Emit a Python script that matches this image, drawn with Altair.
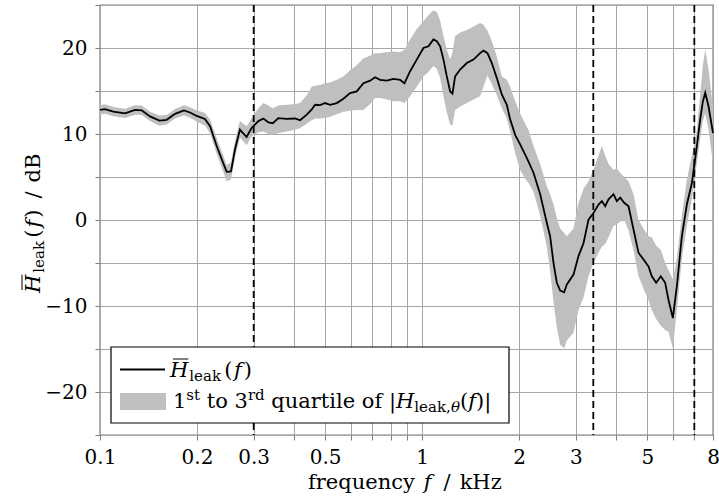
import altair as alt
import pandas as pd

# ---------------- data ----------------
freq_khz = [0.1000, 0.1036, 0.1100, 0.1196, 0.1284, 0.1347, 0.1430, 0.1529, 0.1610, 0.1710,
            0.1823, 0.1903, 0.1996, 0.2118, 0.2196, 0.2303, 0.2414, 0.2473, 0.2551, 0.2624,
            0.2719, 0.2852, 0.2955, 0.3103, 0.3216, 0.3333, 0.3438, 0.3579, 0.3799, 0.4033,
            0.4180, 0.4384, 0.4543, 0.4653, 0.4822, 0.4998, 0.5180, 0.5433, 0.5698, 0.5976,
            0.6268, 0.6574, 0.6895, 0.7145, 0.7406, 0.7768, 0.8147, 0.8545, 0.8813, 0.9178,
            0.9625, 1.0095, 1.0463, 1.0844, 1.1105, 1.1374, 1.1650, 1.1931, 1.2218, 1.2424,
            1.2663, 1.3122, 1.3763, 1.4434, 1.5139, 1.5505, 1.5955, 1.6459, 1.7058, 1.7679,
            1.8323, 1.8764, 1.9448, 2.0156, 2.0890, 2.1392, 2.2174, 2.3256, 2.4391, 2.4976,
            2.5583, 2.6198, 2.6837, 2.7606, 2.8140, 2.9512, 3.0584, 3.1696, 3.2853, 3.4047,
            3.5285, 3.6141, 3.7011, 3.7906, 3.9286, 4.0235, 4.1203, 4.2394, 4.3734, 4.5321,
            4.6967, 4.8679, 5.0446, 5.1659, 5.3290, 5.5097, 5.6836, 5.8210, 6.0047, 6.1784,
            6.4031, 6.6363, 6.8793, 7.1285, 7.3010, 7.4408, 7.5682, 7.7505, 8.0000]

mean_db = [12.8, 12.9, 12.6, 12.4, 12.8, 12.75, 12.05, 11.55, 11.65, 12.35,
           12.75, 12.5, 12.1, 11.75, 10.9, 8.6, 6.6, 5.6, 5.65, 8.2,
           10.5, 9.65, 10.7, 11.5, 11.8, 11.35, 11.25, 11.85, 11.75, 11.8,
           11.6, 12.25, 12.85, 13.4, 13.35, 13.6, 13.4, 13.6, 14.1, 14.75,
           14.95, 15.9, 16.2, 16.6, 16.3, 16.2, 16.4, 16.3, 15.9, 17.3,
           18.65, 20.0, 20.2, 21.0, 20.8, 20.2, 18.65, 16.7, 14.95, 14.7,
           16.7, 17.5, 18.25, 18.65, 19.4, 19.7, 19.4, 18.25, 16.5, 14.6,
           13.4, 11.7, 9.9, 8.8, 7.6, 6.8, 5.5, 3.0, -0.35, -1.9,
           -5.0, -7.3, -8.2, -8.4, -7.5, -6.35, -4.2, -2.7, 0.04, 0.8,
           1.8, 2.2, 1.6, 2.4, 3.0, 2.2, 2.6, 2.0, 1.6, -1.1,
           -3.8, -4.6, -5.4, -6.55, -7.3, -6.55, -7.3, -9.3, -11.4, -7.7,
           -1.9, 1.8, 4.3, 8.6, 11.7, 13.8, 14.8, 13.2, 10.1]

q1_db = [12.25, 12.35, 12.05, 11.85, 12.25, 12.2, 11.5, 10.95, 11.1, 11.8,
         12.15, 11.9, 11.45, 11.0, 10.1, 7.7, 5.6, 4.5, 4.7, 7.2,
         9.6, 8.7, 9.7, 10.2, 10.3, 10.0, 9.9, 10.1, 10.3, 10.5,
         10.7, 11.2, 11.6, 11.8, 11.8, 11.85, 12.0, 12.3, 12.6, 12.7,
         12.8, 12.8, 13.5, 14.2, 14.2, 14.0, 13.8, 13.8, 13.6, 14.4,
         15.5, 16.7, 17.2, 17.9, 17.6, 16.5, 14.4, 12.5, 11.1, 11.0,
         12.8, 13.2, 13.6, 14.0, 14.4, 15.5, 16.8, 15.8, 14.5, 13.0,
         11.8, 10.3, 7.8, 5.8, 4.8, 4.3, 3.3, 0.5, -3.1, -6.0,
         -9.5, -12.5, -14.5, -14.9, -14.0, -13.1, -10.5, -9.0, -6.5, -5.0,
         -3.8, -3.1, -2.8, -2.0, -0.7, -0.5, -0.2, 0.0, -1.2, -3.5,
         -6.5, -8.0, -9.3, -10.5, -11.5, -12.3, -12.8, -13.0, -14.9, -10.5,
         -4.5, -0.7, 2.5, 6.6, 9.5, 11.5, 12.4, 10.5, 6.6]

q3_db = [13.35, 13.45, 13.15, 12.95, 13.35, 13.3, 12.6, 12.15, 12.2, 12.9,
         13.35, 13.1, 12.75, 12.45, 11.7, 9.5, 7.5, 6.4, 6.7, 9.2,
         11.5, 10.9, 11.8, 13.0, 13.6, 13.3, 13.0, 13.3, 13.4, 13.5,
         13.6, 14.5, 15.5, 15.6, 15.7, 15.9, 16.0, 16.3, 16.7, 17.4,
         18.0, 18.8, 19.1, 19.4, 19.4, 19.5, 19.6, 19.5, 19.8, 21.0,
         22.2, 23.1, 23.8, 24.4, 24.2, 23.2, 21.4, 19.8, 18.65, 19.5,
         21.4, 21.8, 22.1, 22.5, 22.9, 22.7, 22.0, 20.8, 19.0, 16.7,
         16.3, 15.5, 13.8, 12.4, 11.2, 10.5, 8.6, 6.5, 3.9, 3.0,
         1.8, 0.2, -1.0, -1.5, -1.9, -1.0, 2.0, 3.6, 4.5, 5.85,
         7.5, 8.6, 7.5, 6.5, 5.85, 6.0, 5.5, 5.0, 4.5, 3.0,
         0.0, -1.0, -1.9, -2.0, -3.0, -3.45, -5.0, -5.8, -6.9, -4.5,
         0.5, 4.7, 7.5, 10.5, 14.5, 18.0, 19.8, 17.5, 13.0]

band_edges_khz = [0.3, 3.4, 7.0]

x_tick_values = [0.1, 0.2, 0.3, 0.4, 0.5, 0.6, 0.7, 0.8, 0.9, 1, 2, 3, 4, 5, 6, 7, 8]
x_tick_labels = [0.1, 0.2, 0.3, 0.5, 1, 2, 3, 5, 8]
y_tick_values = [-25, -20, -15, -10, -5, 0, 5, 10, 15, 20, 25]

df = pd.DataFrame({"f": freq_khz, "mean": mean_db, "q1": q1_db, "q3": q3_db})
edges = pd.DataFrame({"f": band_edges_khz})
one = pd.DataFrame({"k": [0]})

FONT = "DejaVu Serif"
W = {' ': 0.318, '(': 0.390, ')': 0.390, ',': 0.318, '/': 0.337, '|': 0.337,
     '1': 0.636, '3': 0.636, 'B': 0.735, 'H': 0.872, 'a': 0.596, 'c': 0.560,
     'd': 0.640, 'e': 0.592, 'f': 0.370, 'i': 0.320, 'k': 0.621, 'l': 0.320,
     'n': 0.644, 'o': 0.602, 'q': 0.640, 'r': 0.478, 's': 0.513, 't': 0.402,
     'u': 0.644, 'y': 0.565, 'z': 0.525, 'θ': 0.602}


def layout(parts, x0, y0, vertical=False):
    """parts: (text, size, italic, baseline shift, extra gap before)"""
    out = []
    pos = 0.0
    for text, size, italic, shift, gap in parts:
        lead = len(text) - len(text.lstrip(' '))
        trail = len(text) - len(text.rstrip(' '))
        core = text.strip(' ')
        pos += gap + lead * W[' '] * size
        if vertical:
            out.append((core, size, italic, x0 + shift, y0 - pos))
        else:
            out.append((core, size, italic, x0 + pos, y0 + shift))
        pos += sum(W.get(c, 0.6) for c in core) * size
        pos += trail * W[' '] * size
    return out, pos


def text_layers(pieces, angle=0):
    layers = []
    for core, size, italic, px, py in pieces:
        kw = dict(text=core, font=FONT, fontSize=size, align="left",
                  baseline="alphabetic", color="black")
        if italic:
            kw["fontStyle"] = "italic"
        if angle:
            kw["angle"] = angle
        layers.append(alt.Chart(one).mark_text(**kw).encode(
            x=alt.value(px), y=alt.value(py)))
    return layers


S, s = 21, 15

# ---------------- main marks ----------------
x_enc = alt.X("f:Q",
              scale=alt.Scale(type="log", domain=[0.1, 8], nice=False),
              axis=alt.Axis(values=x_tick_values, title=None,
                            labelExpr="indexof(" + str(x_tick_labels) + ", datum.value) >= 0 ? '' + datum.value : ''",
                            labelPadding=7, labelOverlap=False, labelFlush=False))
y_scale = alt.Scale(domain=[-25, 25], nice=False)

band = alt.Chart(df).mark_area(color="#bfbfbf", opacity=1).encode(
    x=x_enc,
    y=alt.Y("q1:Q", scale=y_scale,
            axis=alt.Axis(values=y_tick_values, title=None, format="d",
                          labelExpr="(datum.value % 10 == 0 && abs(datum.value) < 25) ? datum.label : ''",
                          labelPadding=8)),
    y2="q3:Q",
)
line = alt.Chart(df).mark_line(color="black", strokeWidth=1.8).encode(
    x="f:Q", y="mean:Q")
rules = alt.Chart(edges).mark_rule(color="black", strokeWidth=1.8, strokeDash=[7, 4]).encode(
    x="f:Q")

# ---------------- legend ----------------
legend_box = alt.Chart(one).mark_rect(fill="white", stroke="black", strokeWidth=1.2).encode(
    x=alt.value(11), x2=alt.value(409), y=alt.value(342), y2=alt.value(418))
legend_line = alt.Chart(one).mark_rule(color="black", strokeWidth=1.8).encode(
    x=alt.value(20), x2=alt.value(65), y=alt.value(364.5))
legend_patch = alt.Chart(one).mark_rect(color="#bfbfbf").encode(
    x=alt.value(20), x2=alt.value(66), y=alt.value(388), y2=alt.value(405))

t1, _ = layout([("H", S, True, 0, 0), ("leak", s, False, 4, 1), ("(", S, False, 0, 3),
                ("f", S, True, 0, 1.5), (")", S, False, 0, 2)], 70, 372)
t2, _ = layout([("1", S, False, 0, 0), ("st", s, False, -8, 0), (" to 3", S, False, 0, 0),
                ("rd", s, False, -8, 0), (" quartile of |", S, False, 0, 0), ("H", S, True, 0, 0),
                ("leak,", s, False, 4, 0), ("θ", s, True, 4, 0), ("(", S, False, 0, 0),
                ("f", S, True, 0, 0), (")|", S, False, 0, 0)], 73, 403)
ov1 = alt.Chart(one).mark_rule(color="black", strokeWidth=1).encode(
    x=alt.value(73), x2=alt.value(70 + 0.872 * S), y=alt.value(372 - 18))

# ---------------- axis titles ----------------
xparts = [("frequency", S, False, 0, 0), ("f", S, True, 0, 9), ("/", S, False, 0, 12),
          ("kHz", S, False, 0, 9)]
xt, _ = layout(xparts, 208, 484)

yparts = [("H", S, True, 0, 0), ("leak", s, False, 4, 2), ("(", S, False, 0, 3),
          ("f", S, True, 0, 2), (")", S, False, 0, 2), ("/", S, False, 0, 11),
          ("dB", S, False, 0, 9)]
y_start = 288
yt, _ = layout(yparts, -60, y_start, vertical=True)
ov2 = alt.Chart(one).mark_rule(color="black", strokeWidth=1).encode(
    x=alt.value(-60 - 18), y=alt.value(y_start - 3), y2=alt.value(y_start - 0.872 * S))

layers = [band, line, rules, legend_box, legend_line, legend_patch, ov1, ov2]
layers += text_layers(t1) + text_layers(t2) + text_layers(xt) + text_layers(yt, angle=270)

chart = alt.layer(*layers).properties(
    width=613, height=430,
    padding={"left": 100, "top": 5, "right": 6, "bottom": 62},
    autosize=alt.AutoSizeParams(type="none"),
).configure_view(
    stroke="black", strokeWidth=1.2
).configure_axis(
    grid=True, gridColor="#a6a6a6", gridWidth=1, domain=False,
    tickColor="#7f7f7f", tickSize=5, tickWidth=1,
    labelFont=FONT, labelFontSize=20, labelColor="black",
)

chart.save("out.html", embed_options={"renderer": "svg", "actions": False})
